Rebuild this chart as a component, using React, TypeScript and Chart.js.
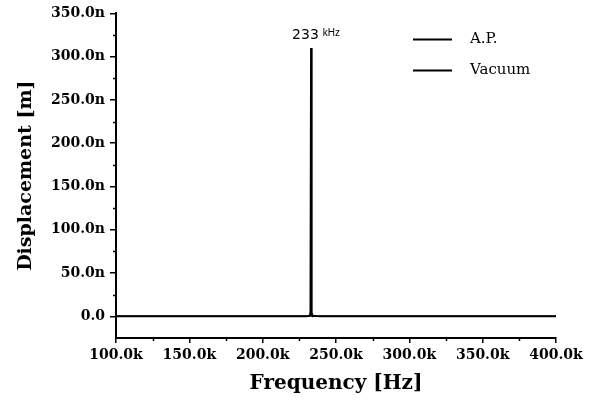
import React, { useEffect, useRef } from 'react';
import { Chart, registerables } from 'chart.js';

Chart.register(...registerables);

// Frequency in kHz, displacement in nm
const frequencyKHz = [100, 150, 200, 225, 230, 232, 232.6, 233, 233.4, 234, 236, 240, 250, 300, 350, 400];
const vacuumNm = [0, 0, 0, 0, 0.2, 0.8, 4, 310, 4, 0.8, 0.3, 0.2, 0.1, 0, 0, 0];
const apNm = [0, 0, 0, 0, 0.1, 0.2, 0.5, 1.2, 0.5, 0.2, 0.1, 0, 0, 0, 0, 0];

const seriesLabels = ['A.P.', 'Vacuum'];

const xMajorTicks = [100, 150, 200, 250, 300, 350, 400];
const xMinorTicks = [125, 175, 225, 275, 325, 375];
const yMajorTicks = [0, 50, 100, 150, 200, 250, 300, 350];
const yMinorTicks = [25, 75, 125, 175, 225, 275, 325];

const peakFreq = 233;
const peakValue = 310;
const peakLabel = '233';
const peakUnit = 'kHz';

const xTitle = 'Frequency [Hz]';
const yTitle = 'Displacement [m]';

const tickFont = { family: 'DejaVu Serif', weight: 'bold' as const, size: 14 };
const xTitleFont = { family: 'DejaVu Serif', weight: 'bold' as const, size: 20 };
const yTitleFont = { family: 'DejaVu Serif', weight: 'bold' as const, size: 19 };

const extrasPlugin = {
  id: 'extras',
  afterDraw(chart: any) {
    const ctx = chart.ctx;
    const xs = chart.scales.x;
    const ys = chart.scales.y;
    const area = chart.chartArea;
    ctx.save();
    ctx.strokeStyle = '#000';
    ctx.lineWidth = 1.5;
    // minor ticks
    yMinorTicks.forEach((v) => {
      const py = Math.round(ys.getPixelForValue(v)) + 0.5;
      ctx.beginPath();
      ctx.moveTo(area.left - 3, py);
      ctx.lineTo(area.left, py);
      ctx.stroke();
    });
    xMinorTicks.forEach((v) => {
      const px = Math.round(xs.getPixelForValue(v)) + 0.5;
      ctx.beginPath();
      ctx.moveTo(px, area.bottom);
      ctx.lineTo(px, area.bottom + 3);
      ctx.stroke();
    });
    // peak annotation
    const px = xs.getPixelForValue(peakFreq);
    const py = ys.getPixelForValue(peakValue);
    ctx.fillStyle = '#000';
    ctx.textBaseline = 'alphabetic';
    ctx.textAlign = 'left';
    ctx.font = '14px "DejaVu Sans"';
    const lx = px - 19;
    ctx.fillText(peakLabel, lx, py - 9);
    const w = ctx.measureText(peakLabel).width;
    ctx.font = '10px "Liberation Sans"';
    ctx.fillText(peakUnit, lx + w + 4, py - 12);
    // legend
    const legX = area.right - 143;
    const legY = area.top + 26;
    ctx.font = '15px "DejaVu Serif"';
    ctx.textBaseline = 'middle';
    chart.data.datasets.forEach((ds: any, i: number) => {
      const y = legY + i * 31;
      ctx.strokeStyle = ds.borderColor;
      ctx.lineWidth = 2;
      ctx.beginPath();
      ctx.moveTo(legX, y);
      ctx.lineTo(legX + 39, y);
      ctx.stroke();
      ctx.fillText(ds.label, legX + 57, y);
    });
    ctx.restore();
  },
};

export default function App() {
  const ref = useRef<HTMLCanvasElement>(null);
  useEffect(() => {
    if (!ref.current) return;
    const chart = new Chart(ref.current, {
      type: 'scatter',
      data: {
        datasets: [
          {
            label: seriesLabels[0],
            data: frequencyKHz.map((f, i) => ({ x: f, y: apNm[i] })),
            showLine: true,
            borderColor: '#000',
            borderWidth: 1.5,
            pointRadius: 0,
          },
          {
            label: seriesLabels[1],
            data: frequencyKHz.map((f, i) => ({ x: f, y: vacuumNm[i] })),
            showLine: true,
            borderColor: '#000',
            borderWidth: 2,
            pointRadius: 0,
          },
        ],
      },
      options: {
        responsive: false,
        animation: false,
        layout: { padding: { top: 12, right: 34, bottom: 0, left: 0 } },
        plugins: { legend: { display: false }, tooltip: { enabled: false } },
        scales: {
          x: {
            type: 'linear',
            min: 100,
            max: 400,
            afterBuildTicks: (s: any) => {
              s.ticks = xMajorTicks.map((v) => ({ value: v }));
            },
            afterFit: (s: any) => {
              s.height = 69;
            },
            ticks: {
              autoSkip: false,
              maxRotation: 0,
              color: '#000',
              font: tickFont,
              padding: 4,
              callback: (v: any) => Number(v).toFixed(1) + 'k',
            },
            grid: { drawOnChartArea: false, tickLength: 5, color: '#000', lineWidth: 1.5 },
            border: { display: true, color: '#000', width: 2 },
            title: { display: true, text: xTitle, color: '#000', font: xTitleFont, padding: { top: 0, bottom: 11 } },
          },
          y: {
            type: 'linear',
            min: -25,
            max: 350,
            afterBuildTicks: (s: any) => {
              s.ticks = yMajorTicks.map((v) => ({ value: v }));
            },
            afterFit: (s: any) => {
              s.width = 116;
            },
            ticks: {
              color: '#000',
              font: tickFont,
              padding: 5,
              callback: (v: any) => (Number(v) === 0 ? '0.0' : Number(v).toFixed(1) + 'n'),
            },
            grid: { drawOnChartArea: false, tickLength: 6, color: '#000', lineWidth: 1.5 },
            border: { display: true, color: '#000', width: 2 },
            title: { display: true, text: yTitle, color: '#000', font: yTitleFont, padding: { top: 15, bottom: 0 } },
          },
        },
      },
      plugins: [extrasPlugin],
    });
    return () => chart.destroy();
  }, []);
  return (
    <div style={{ position: 'absolute', left: 0, top: 0, width: 590, height: 407, background: '#fff' }}>
      <canvas ref={ref} width={590} height={407} />
    </div>
  );
}
